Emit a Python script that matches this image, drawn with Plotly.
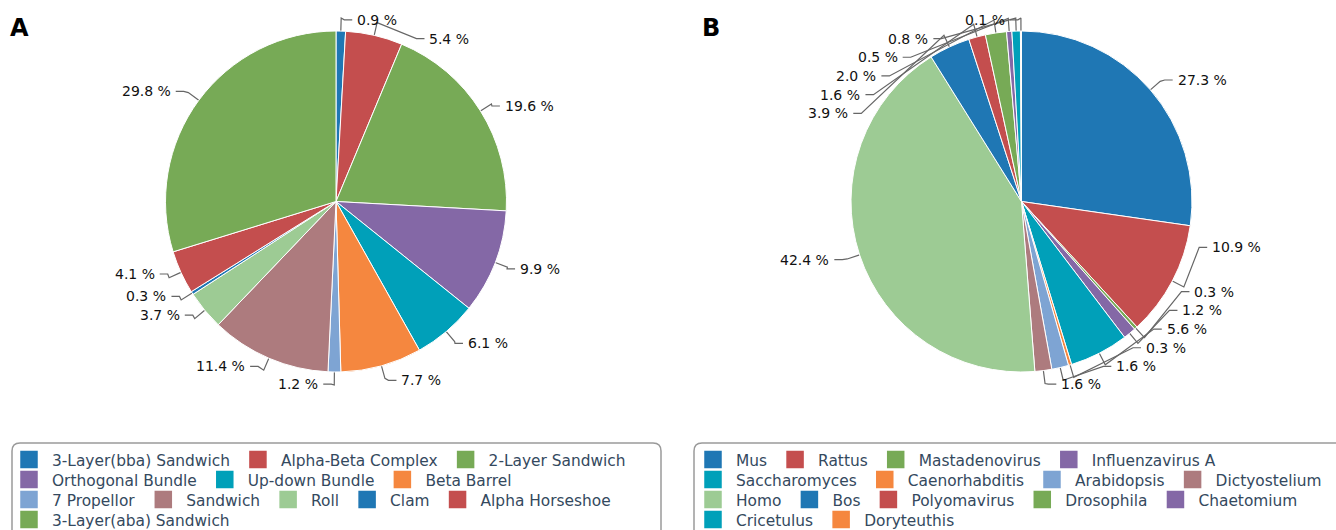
import math
import plotly.graph_objects as go

W, H = 1336, 530

# ---------------- data ----------------
a_labels = ["3-Layer(bba) Sandwich", "Alpha-Beta Complex", "2-Layer Sandwich",
            "Orthogonal Bundle", "Up-down Bundle", "Beta Barrel",
            "7 Propellor", "Sandwich", "Roll", "Clam", "Alpha Horseshoe",
            "3-Layer(aba) Sandwich"]
a_values = [0.9, 5.4, 19.6, 9.9, 6.1, 7.7, 1.2, 11.4, 3.7, 0.3, 4.1, 29.8]

b_labels = ["Mus", "Rattus", "Mastadenovirus", "Influenzavirus A",
            "Saccharomyces", "Caenorhabditis", "Arabidopsis", "Dictyostelium",
            "Homo", "Bos", "Polyomavirus", "Drosophila", "Chaetomium",
            "Cricetulus", "Doryteuthis"]
b_values = [27.3, 10.9, 0.3, 1.2, 5.6, 0.3, 1.6, 1.6, 42.4, 3.9, 1.6, 2.0,
            0.5, 0.8, 0.1]

palette = ["#1f77b4", "#c44e4e", "#77aa56", "#8468a6", "#00a0b9",
           "#f5873f", "#7ea4d3", "#ad7b7e", "#9dcb94"]

a_legend_rows = [3, 3, 5, 1]
b_legend_rows = [4, 4, 5, 2]

# ---------------- layout constants ----------------
R = 170.5
CENTERS = {"A": (336.0, 201.5), "B": (1021.5, 201.5)}
LEN, LEN2, DIST, TICK = 15.0, 11.0, 5.0, 13.0
LABEL_H = 18.7
VIEW_TOP, VIEW_BOTTOM = 10.5, 394.5
LABEL_FONT = dict(family="DejaVu Sans", size=14, color="#111")
LEGEND_FONT = dict(family="DejaVu Sans", size=15.4, color="#34495e")
LEGEND_ROW_Y = [460, 480, 500, 520]
LEGEND_LEFT = {"A": 6.0, "B": 690.0}
LEGEND_ITEMWIDTH = 36


def shift_layout(lst, min_b, max_b):
    n = len(lst)
    if n < 2:
        return False
    lst.sort(key=lambda it: it["ry"])
    state = {"adj": False}
    last = 0.0
    for it in lst:
        delta = it["ry"] - last
        if delta < 0:
            it["ry"] -= delta
            it["ly"] -= delta
            state["adj"] = True
        last = it["ry"] + it["h"]

    def shift_list(d, s, e):
        if d != 0:
            state["adj"] = True
        for k in range(s, e):
            lst[k]["ry"] += d
            lst[k]["ly"] += d

    def squeeze(delta, maxpct):
        gs = [max(lst[k]["ry"] - lst[k - 1]["ry"] - lst[k - 1]["h"], 0)
              for k in range(1, n)]
        tot = sum(gs)
        if not tot:
            return
        pct = min(abs(delta) / tot, maxpct)
        if delta > 0:
            for k in range(n - 1):
                shift_list(gs[k] * pct, 0, k + 1)
        else:
            for k in range(n - 1, 0, -1):
                shift_list(-gs[k - 1] * pct, k, n)

    def gaps():
        return (lst[0]["ry"] - min_b,
                max_b - lst[-1]["ry"] - lst[-1]["h"])

    def take(this_gap, other_gap, mdir):
        if this_gap < 0:
            mv = min(other_gap, -this_gap)
            if mv > 0:
                shift_list(mv * mdir, 0, n)
                rem = mv + this_gap
                if rem < 0:
                    squeeze(-rem * mdir, 1)
            else:
                squeeze(-this_gap * mdir, 1)

    def bailout(delta):
        d = -1 if delta < 0 else 1
        delta = abs(delta)
        mv = math.ceil(delta / (n - 1))
        for k in range(n - 1):
            if d > 0:
                shift_list(mv, 0, k + 1)
            else:
                shift_list(-mv, n - k - 1, n)
            delta -= mv
            if delta <= 0:
                return

    mn, mx = gaps()
    if mn < 0:
        squeeze(-mn, 0.8)
    if mx < 0:
        squeeze(mx, 0.8)
    mn, mx = gaps()
    take(mn, mx, 1)
    take(mx, mn, -1)
    mn, mx = gaps()
    if mn < 0:
        bailout(-mn)
    if mx < 0:
        bailout(mx)
    return state["adj"]


def recalc_x(lst, cx, cy, r, d):
    rA = r + LEN
    semis = [{"list": [], "maxY": 0.0, "rB": rA},
             {"list": [], "maxY": 0.0, "rB": rA}]
    for it in lst:
        semi = semis[1] if it["ly"] > cy else semis[0]
        dy = abs(it["ly"] - cy)
        if dy >= semi["maxY"]:
            dx = it["lx"] - cx - LEN2 * d
            semi["rB"] = (math.sqrt(dy * dy / (1 - dx * dx / rA / rA))
                          if abs(dx) < rA else rA)
            semi["maxY"] = dy
        semi["list"].append(it)
    for semi in semis:
        rB = semi["rB"]
        for it in semi["list"]:
            dy = abs(it["ly"] - cy)
            val = (1 - dy * dy / (rB * rB)) * rA * rA
            dx = math.sqrt(max(val, 0.0))
            it["lx"] = cx + (dx + LEN2) * d


def layout_labels(values, cx, cy, r):
    total = sum(values)
    items = []
    cum = 0.0
    for i, v in enumerate(values):
        mid = (cum + v / 2.0) / total * 2 * math.pi
        cum += v
        ux, uy = math.sin(mid), -math.cos(mid)
        d = 1 if ux >= 0 else -1
        x2, y2 = cx + (r + LEN) * ux, cy + (r + LEN) * uy
        lx = x2 + d * (LEN2 + DIST)
        items.append(dict(i=i, v=v, ux=ux, uy=uy, d=d, lx=lx, ly=y2,
                          ry=y2 - LABEL_H / 2, h=LABEL_H))
    left = [it for it in items if it["lx"] < cx]
    right = [it for it in items if it["lx"] >= cx]
    for side, d in ((right, 1), (left, -1)):
        if shift_layout(side, VIEW_TOP, VIEW_BOTTOM):
            recalc_x(side, cx, cy, r, d)
    items.sort(key=lambda it: it["i"])
    return items


fig = go.Figure()

panels = [("A", a_labels, a_values, a_legend_rows, 1),
          ("B", b_labels, b_values, b_legend_rows, 5)]

annotations = []
legend_layouts = {}
for key, labels, values, rows, leg_idx0 in panels:
    cx, cy = CENTERS[key]
    colors = [palette[i % len(palette)] for i in range(len(labels))]
    fig.add_trace(go.Pie(
        labels=labels, values=values, sort=False, direction="clockwise",
        rotation=0, textinfo="none", hoverinfo="label+percent",
        marker=dict(colors=colors, line=dict(color="white", width=1)),
        domain=dict(x=[(cx - R) / W, (cx + R) / W],
                    y=[1 - (cy + R) / H, 1 - (cy - R) / H]),
        showlegend=False))

    items = layout_labels(values, cx, cy, R)
    lx_all, ly_all = [], []
    for it in items:
        p0 = (cx + R * it["ux"], cy + R * it["uy"])
        p1 = (cx + (R + TICK) * it["ux"], cy + (R + TICK) * it["uy"])
        p2 = (it["lx"] - it["d"] * 13, it["ly"])
        p3 = (it["lx"] - it["d"] * DIST, it["ly"])
        for p in (p0, p1, p2, p3):
            lx_all.append(p[0])
            ly_all.append(p[1])
        lx_all.append(None)
        ly_all.append(None)
        annotations.append(dict(
            x=it["lx"] - it["d"] * 2, y=it["ly"], xref="x", yref="y",
            text=f"{it['v']:.1f} %", showarrow=False,
            xanchor="left" if it["d"] > 0 else "right", yanchor="middle",
            font=LABEL_FONT))
    fig.add_trace(go.Scatter(x=lx_all, y=ly_all, mode="lines",
                             line=dict(color="#666666", width=1.2),
                             hoverinfo="skip", showlegend=False))

    # legend entries, one Plotly legend per row
    k = 0
    for r_i, count in enumerate(rows):
        idx = leg_idx0 + r_i
        leg_name = "legend" if idx == 1 else f"legend{idx}"
        for j in range(count):
            fig.add_trace(go.Scatter(
                x=[None], y=[None], mode="markers", name=labels[k],
                marker=dict(symbol="square", size=16, color=colors[k],
                            line=dict(color=colors[k], width=1.5)),
                legend=leg_name, showlegend=True, hoverinfo="skip"))
            k += 1
        legend_layouts[leg_name] = dict(
            orientation="h", x=LEGEND_LEFT[key] / W, xanchor="left",
            y=1 - LEGEND_ROW_Y[r_i] / H, yanchor="middle",
            itemwidth=LEGEND_ITEMWIDTH,
            bgcolor="rgba(0,0,0,0)", borderwidth=0, font=LEGEND_FONT,
            itemclick=False, itemdoubleclick=False)

    annotations.append(dict(
        x=19 if key == "A" else 711, y=28, xref="x", yref="y", text=f"<b>{key}</b>",
        showarrow=False, xanchor="center", yanchor="middle",
        font=dict(family="DejaVu Sans", size=24, color="#000")))

shapes = [
    dict(type="path", xref="x", yref="y",
         path="M 12,545 L 12,451 Q 12,443 20,443 L 653,443 Q 661,443 661,451 L 661,545",
         line=dict(color="#9a9a9a", width=1.5)),
    dict(type="path", xref="x", yref="y",
         path="M 694,545 L 694,451 Q 694,443 702,443 L 1345,443",
         line=dict(color="#9a9a9a", width=1.5)),
]

fig.update_layout(
    width=W, height=H, autosize=False,
    margin=dict(l=0, r=0, t=0, b=0, autoexpand=False),
    paper_bgcolor="white", plot_bgcolor="white",
    xaxis=dict(range=[0, W], visible=False, fixedrange=True),
    yaxis=dict(range=[H, 0], visible=False, fixedrange=True),
    annotations=annotations, shapes=shapes,
    **legend_layouts,
)

fig.write_html("out.html")
